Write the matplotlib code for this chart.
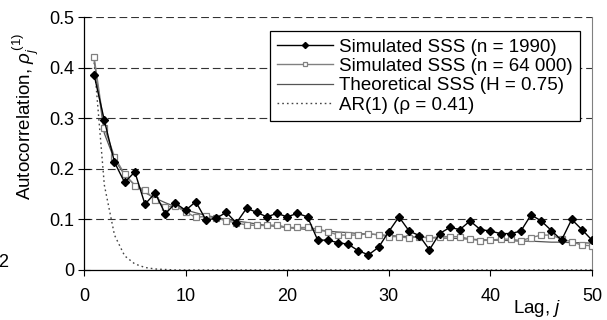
import matplotlib
matplotlib.use("Agg")
import matplotlib.pyplot as plt

plt.rcParams['font.family'] = ['Liberation Sans', 'DejaVu Sans']
plt.rcParams['mathtext.fontset'] = 'custom'
plt.rcParams['mathtext.rm'] = 'Liberation Sans'
plt.rcParams['mathtext.it'] = 'Liberation Sans:italic'

lags = list(range(1, 51))

# simulated SSS, n = 1990
sim_1990 = [0.385, 0.296, 0.213, 0.173, 0.194, 0.130, 0.152, 0.111, 0.132, 0.118,
            0.135, 0.099, 0.102, 0.114, 0.093, 0.122, 0.114, 0.105, 0.112, 0.105,
            0.112, 0.105, 0.059, 0.059, 0.054, 0.051, 0.038, 0.030, 0.045, 0.076,
            0.105, 0.077, 0.068, 0.040, 0.072, 0.084, 0.080, 0.097, 0.080, 0.077,
            0.072, 0.072, 0.077, 0.109, 0.097, 0.078, 0.059, 0.100, 0.080, 0.059]

# simulated SSS, n = 64 000
sim_64000 = [0.420, 0.281, 0.224, 0.189, 0.167, 0.158, 0.138, 0.125, 0.126, 0.115,
             0.104, 0.106, 0.103, 0.097, 0.093, 0.089, 0.088, 0.088, 0.089, 0.084,
             0.084, 0.084, 0.081, 0.076, 0.069, 0.069, 0.069, 0.072, 0.069, 0.066,
             0.066, 0.063, 0.066, 0.063, 0.066, 0.066, 0.066, 0.061, 0.058, 0.059,
             0.061, 0.061, 0.058, 0.064, 0.069, 0.069, 0.061, 0.056, 0.049, 0.048]

# theoretical SSS, H = 0.75
theory = [0.414, 0.270, 0.218, 0.188, 0.168, 0.153, 0.142, 0.133, 0.125, 0.119,
          0.113, 0.108, 0.104, 0.100, 0.097, 0.094, 0.091, 0.088, 0.086, 0.084,
          0.082, 0.080, 0.078, 0.077, 0.075, 0.074, 0.072, 0.071, 0.070, 0.068,
          0.067, 0.066, 0.065, 0.064, 0.063, 0.063, 0.062, 0.061, 0.060, 0.059,
          0.059, 0.058, 0.057, 0.057, 0.056, 0.055, 0.055, 0.054, 0.054, 0.053]

# AR(1), rho = 0.41
ar1 = [0.41, 0.168, 0.069, 0.028, 0.012, 0.005, 0.002, 0.001] + [0.0] * 42

labels = ['Simulated SSS (n = 1990)', 'Simulated SSS (n = 64 000)',
          'Theoretical SSS (H = 0.75)', 'AR(1) (ρ = 0.41)']

fs = 13

fig = plt.figure(figsize=(6.07, 3.2), dpi=100)
ax = fig.add_axes([0.1384, 0.15625, 0.8369, 0.7906])

for y in [0.1, 0.2, 0.3, 0.4, 0.5]:
    ax.axhline(y, color='#333333', lw=0.8, dashes=(7, 3.5), zorder=1)

ax.plot(lags, sim_1990, color='black', lw=1.0, marker='D', ms=4.4,
        mfc='black', mec='black', label=labels[0], zorder=4)
ax.plot(lags, sim_64000, color='#808080', lw=1.0, marker='s', ms=4.4,
        mfc='white', mec='#808080', mew=0.9, label=labels[1], zorder=3)
ax.plot(lags, theory, color='#555555', lw=0.9, label=labels[2], zorder=2)
ax.plot(lags, ar1, color='#444444', lw=1.0, ls=(0, (1.2, 2.2)), label=labels[3], zorder=2)

ax.set_xlim(0, 50)
ax.set_ylim(0, 0.5)
ax.set_xticks([0, 10, 20, 30, 40, 50])
ax.set_yticks([0, 0.1, 0.2, 0.3, 0.4, 0.5])
ax.set_yticklabels(['0', '0.1', '0.2', '0.3', '0.4', '0.5'])
ax.tick_params(axis='y', direction='inout', length=8, width=0.8, pad=3, labelsize=fs)
ax.tick_params(axis='x', direction='out', length=4.3, width=0.8, pad=9, labelsize=fs)

ax.spines['top'].set_visible(False)
ax.spines['right'].set_color('#808080')
ax.spines['left'].set_linewidth(0.9)
ax.spines['bottom'].set_linewidth(0.9)

ax.set_ylabel(r'Autocorrelation, $\rho_j^{\,(1)}$', fontsize=13.5)
ax.yaxis.set_label_coords(-0.084, 0.607)
ax.set_xlabel(r'Lag, $j$', fontsize=13.5)
ax.xaxis.set_label_coords(0.892, -0.112)

leg = ax.legend(loc='upper right', bbox_to_anchor=(0.9764, 0.945), borderaxespad=0,
                fontsize=13.5, handlelength=3.0, handletextpad=0.3, labelspacing=0.12,
                markerscale=0.7, fancybox=False, framealpha=1, edgecolor='black',
                borderpad=0.4)
leg.get_frame().set_linewidth(0.9)

fig.text(0.014, 0.18, '2', fontsize=fs, va='center', ha='right')

fig.savefig('out.png', dpi=100)
